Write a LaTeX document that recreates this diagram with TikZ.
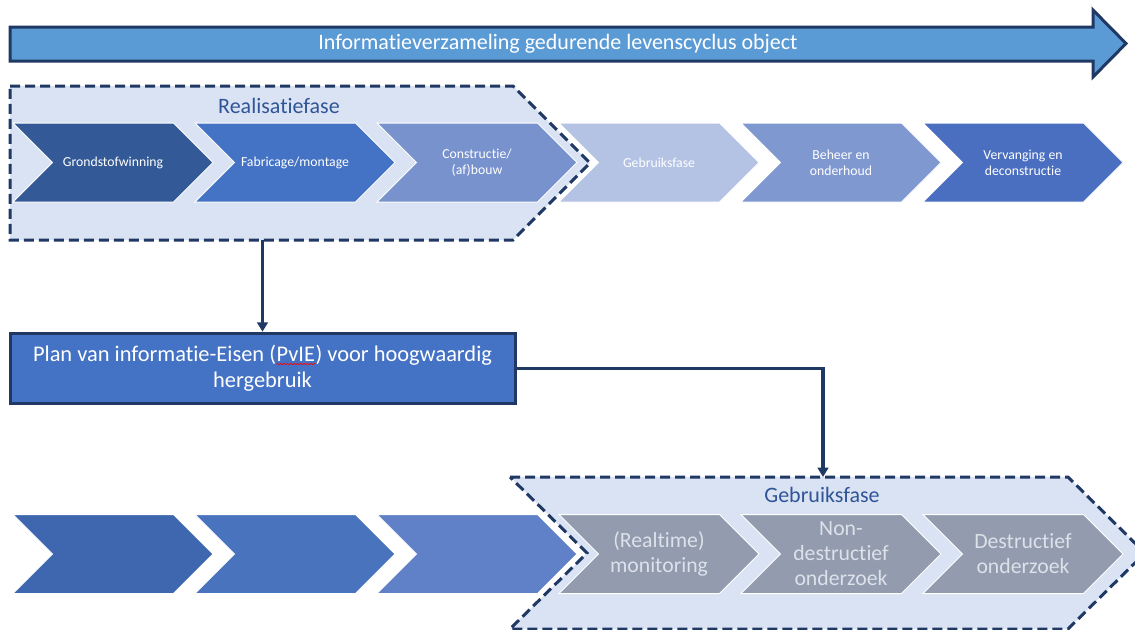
\documentclass[tikz,border=0pt]{standalone}
\usepackage{fontspec}
\setmainfont{Carlito}[Ligatures=NoCommon]
\usetikzlibrary{shapes.symbols}
\usetikzlibrary{arrows.meta}
\usetikzlibrary{decorations.pathmorphing}
\definecolor{navy}{RGB}{31,56,100}
\definecolor{arrowblue}{RGB}{91,155,213}
\definecolor{phasefill}{RGB}{218,227,243}
\definecolor{phasetext}{RGB}{47,85,151}
\definecolor{chevA}{RGB}{51,90,150}
\definecolor{chevB}{RGB}{68,114,196}
\definecolor{chevC}{RGB}{120,146,205}
\definecolor{chevD}{RGB}{180,194,227}
\definecolor{chevE}{RGB}{128,152,208}
\definecolor{chevF}{RGB}{74,111,192}
\definecolor{lowA}{RGB}{62,103,176}
\definecolor{lowB}{RGB}{74,115,190}
\definecolor{lowC}{RGB}{96,129,199}
\definecolor{lowgray}{RGB}{146,156,174}
\definecolor{lowtext}{RGB}{220,225,234}
\newcommand{\widthchev}{150pt}
\newcommand{\heightchev}{59.25pt}
\newcommand{\stepchev}{182}
\newcommand{\spellmark}[1]{\tikz[baseline=(word.base), x=1pt, y=1pt]{%
    \node[inner sep=0pt, minimum width=0pt, minimum height=0pt, draw=none, fill=none, text=white] (word) {#1};
    \draw[red, line width=0.5pt, solid, decorate, decoration={snake, amplitude=0.5pt, segment length=2.5pt}]
        ([yshift=-1.7pt]word.base west) -- ([yshift=-1.7pt]word.base east);}}
\tikzset{
    chev/.style={shape=signal, signal to=east, signal from=west, signal pointer angle=90,
        minimum width=\widthchev, minimum height=\heightchev, inner sep=0pt,
        draw=white, line width=0.75pt, align=center, text=white},
    smallchev/.style={chev, font=\fontsize{10.3}{12}\selectfont},
    bigchev/.style={chev, fill=lowgray, text=lowtext, font=\fontsize{16.3}{18.75}\selectfont},
    phasebox/.style={fill=phasefill, draw=navy, line width=2.25pt, line join=miter,
        dash pattern=on 7.5pt off 3.75pt},
    phasetitle/.style={text=phasetext, font=\fontsize{16.5}{19}\selectfont},
    infoarrow/.style={fill=arrowblue, draw=navy, line width=2.25pt, line join=miter},
    planbox/.style={draw=navy, fill=chevB, line width=2.25pt, text=white, align=center,
        minimum width=378.75pt, minimum height=53pt, inner sep=0pt,
        font=\fontsize{16.8}{19.5}\selectfont},
    link/.style={draw=navy, line width=2.4pt, -{Triangle[width=8pt,length=7pt]}}
}

\begin{document}
\begin{tikzpicture}[x=0.75pt, y=-0.75pt]
        \clip (0,0) rectangle (1135,629);

        % levenscyclus
        \draw[infoarrow] (10,27) -- (1093,27) -- (1093,10) -- (1126,43.5) -- (1093,77) -- (1093,61) -- (10,61) -- cycle;
        \node[text=white, font=\fontsize{16.5}{19}\selectfont] (info) at (558,44) {Informatieverzameling gedurende levenscyclus object};

        % realisatiefase
        \draw[phasebox] (10,86) -- (513,86) -- (590,163) -- (513,240) -- (10,240) -- cycle;
        \coordinate (realbottom) at (262.5,240);
        \node[phasetitle] (realtitle) at (279,106) {Realisatiefase};

        \path
            (113,162.5) node[smallchev, fill=chevA] (grond) {Grondstofwinning}
            to ++(0:\stepchev) node[smallchev, fill=chevB] (fabric) {Fabricage/montage}
            to ++(0:\stepchev) node[smallchev, fill=chevC] (constr) {Constructie/\\(af)bouw}
            to ++(0:\stepchev) node[smallchev, fill=chevD] (gebruik) {Gebruiksfase}
            to ++(0:\stepchev) node[smallchev, fill=chevE] (beheer) {Beheer en\\onderhoud}
            to ++(0:\stepchev) node[smallchev, fill=chevF] (vervang) {Vervanging en\\deconstructie};

        \node[planbox] (plan) at (262.5,368.5)
            {Plan van informatie-Eisen (\spellmark{PvIE}) voor hoogwaardig\\hergebruik};

        % gebruiksfase
        \draw[phasebox] (510,477) -- (1068,477) -- (1145,553) -- (1068,629) -- (510,629) -- (587,553) -- cycle;
        \coordinate (usetop) at (823,477);
        \node[phasetitle] (usetitle) at (822,495) {Gebruiksfase};

        \path
            (113,554) node[chev, fill=lowA] (lowgrond) {}
            to ++(0:\stepchev) node[chev, fill=lowB] (lowfabric) {}
            to ++(0:\stepchev) node[chev, fill=lowC] (lowconstr) {}
            to ++(0:\stepchev) node[bigchev] (monitor) {(Realtime)\\monitoring}
            to ++(0:\stepchev) node[bigchev] (nondestr) {Non-\\destructief\\onderzoek}
            to ++(0:\stepchev) node[bigchev] (destr) {Destructief\\onderzoek};

        \draw[link] (realbottom) -- (plan.north);
        \draw[link] (plan.east) -| (usetop);

    \end{tikzpicture}
\end{document}
